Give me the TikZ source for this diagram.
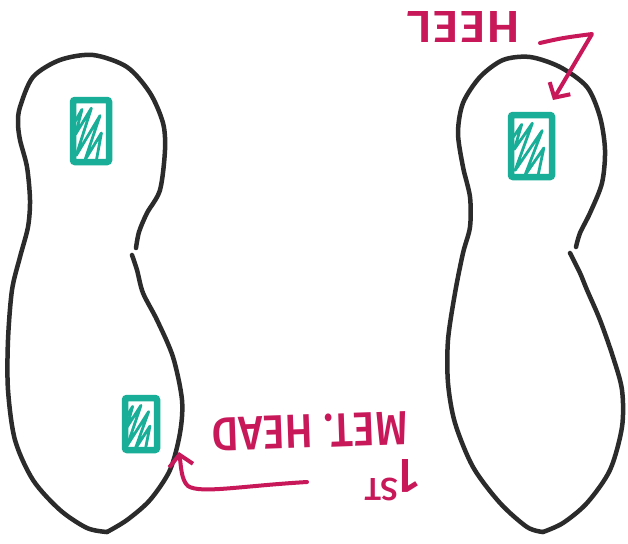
\documentclass[tikz,border=0pt]{standalone}
\usepackage{fontspec}
\setmainfont{Fira Sans}[BoldFont=* Medium]
\usetikzlibrary{arrows.meta}
\definecolor{ink}{HTML}{2B2B2B}
\definecolor{padgreen}{HTML}{19AE98}
\definecolor{markred}{HTML}{C8185A}
% zig-zag hatching inside a pad: node name, width, height
\newcommand\padhatch[3]{%
  \draw[hatch, shift={(#1.south west)}, xscale=#2, yscale=-#3]
    (0.14,0.70) -- (0.34,0.90) -- (0.16,0.50) -- (0.60,0.92) -- (0.18,0.16)
    -- (0.84,0.80) -- (0.42,0.08) -- (0.88,0.52) -- (0.74,0.08);}
\begin{document}
\begin{tikzpicture}[x=1pt,y=-1pt,
  outline/.style={ink, line width=4.5pt, line cap=round, line join=round},
  pad/.style 2 args={draw=padgreen, fill=white, line width=6.5pt,
    rounded corners=2pt, inner sep=0pt,
    minimum width=#1pt, minimum height=#2pt},
  hatch/.style={padgreen, line width=2.8pt, line join=round, line cap=round},
  label/.style={markred, inner sep=0pt, font=\bfseries},
  pointer/.style={markred, line width=4pt, line cap=round, line join=round,
    -{Straight Barb[length=11pt, width=24pt]}}
]
\fill[white] (0,0) rectangle (628,543);
\useasboundingbox (0,0) rectangle (628,543);

% left foot outline: starts at the notch, ends at the waist
\draw[outline] plot[smooth] coordinates {(132,255) (137,270) (143,293) (157,320)
  (173,357) (182,400) (180,433) (170,470) (150,500) (127,520) (107,532)};
\draw[outline] plot[smooth] coordinates {(107,532) (87,528) (60,510) (33,480)
  (15,440) (8,390) (8,340) (12,290) (20,257) (28,227) (30,200) (27,167) (20,140)
  (18,123) (20,107) (33,77) (60,60) (93,55) (127,67) (150,93) (163,123) (165,150)
  (160,190) (147,213) (139,232) (136,248)};

% right foot outline
\draw[outline] plot[smooth] coordinates {(570,253) (580,273) (587,290) (600,320)
  (613,357) (622,390) (622,427) (610,470) (587,503) (563,523) (543,532)};
\draw[outline] plot[smooth] coordinates {(543,532) (527,527) (500,503) (473,467)
  (455,423) (448,383) (448,340) (455,293) (463,253) (470,227) (470,197) (463,167)
  (458,133) (463,103) (480,77) (503,60) (530,57) (560,67) (587,87) (600,117)
  (605,150) (602,183) (590,213) (580,233) (576,247)};

% sensor pads
\node[pad={36}{62}] (padheelL) at (91,131) {};
\node[pad={32}{52}] (padmetL) at (141,424) {};
\node[pad={41}{62}] (padheelR) at (531.5,146) {};
\padhatch{padheelL}{36}{62}
\padhatch{padmetL}{32}{52}
\padhatch{padheelR}{41}{62}

% labels (set upside down)
\node[label, rotate=180] (heel) at (463.5,27)
  {\resizebox{113pt}{31pt}{HEEL}};
\node[label, rotate=182] (methead) at (310,431)
  {\resizebox{196pt}{33pt}{MET. HEAD}};
\node[label, rotate=180] (first) at (392,480)
  {\resizebox{55pt}{42pt}{\fontsize{40}{40}\selectfont 1\raisebox{16pt}{\fontsize{26}{26}\selectfont ST}}};

% arrows
\coordinate (heeltail) at (540,43);
\coordinate (heeltip) at (553,100);
\coordinate (mettail) at (307,482);
\coordinate (mettip) at (179,452);
\draw[pointer] (heeltail) .. controls (562,38) .. (592,34) -- (heeltip);
\draw[pointer] (mettail) .. controls (240,486) and (200,494) .. (188,486)
  .. controls (181,480) and (181,465) .. (mettip);
\end{tikzpicture}
\end{document}
